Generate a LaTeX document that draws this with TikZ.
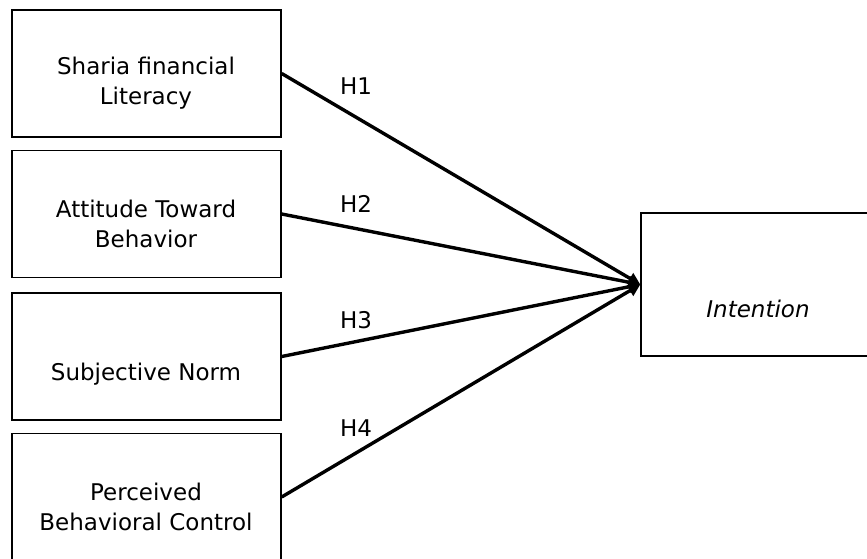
\documentclass[tikz,border=0pt]{standalone}
\usepackage{fontspec}
\setmainfont{DejaVu Sans}
\usetikzlibrary{arrows.meta}
\begin{document}
\begin{tikzpicture}[x=1pt,y=1pt,
  box/.style={draw=black,line width=1.4pt,inner sep=0pt,minimum width=269pt,minimum height=127pt},
  txt/.style={inner sep=0pt,align=center,font=\fontsize{23}{30}\selectfont},
  hyp/.style={inner sep=0pt,font=\fontsize{23}{30}\selectfont},
  path/.style={line width=3.4pt,-{Triangle[length=12pt,width=12pt]}}]
\useasboundingbox (0,0) rectangle (867,558);
\begin{scope}
\clip (0,0) rectangle (867,558);
\node[box] (b1) at (146.5,484.5) {};
\node[box] (b2) at (146.5,344) {};
\node[box] (b3) at (146.5,201.5) {};
\node[box] (b4) at (146.5,61) {};
\node[box,minimum width=234pt,minimum height=143pt] (r) at (758,273.5) {};
\end{scope}
\node[txt,anchor=base] (t1) at (146,453) {Sharia financial\\Literacy};
\node[txt,anchor=base] (t2) at (146,311) {Attitude Toward\\Behavior};
\node[txt,anchor=base] (t3) at (146,178) {Subjective Norm};
\node[txt,anchor=base] (t4) at (146,28) {Perceived\\Behavioral Control};
\node[txt,anchor=base] (t5) at (758,241) {\itshape Intention};
\draw[path] (b1.east) -- (r.west);
\draw[path] (b2.east) -- (r.west);
\draw[path] (b3.east) -- (r.west);
\draw[path] (b4.east) -- (r.west);
\node[hyp,anchor=base] (h1) at (356,463) {H1};
\node[hyp,anchor=base] (h2) at (356,346) {H2};
\node[hyp,anchor=base] (h3) at (356,230) {H3};
\node[hyp,anchor=base] (h4) at (356,122) {H4};
\end{tikzpicture}
\end{document}
